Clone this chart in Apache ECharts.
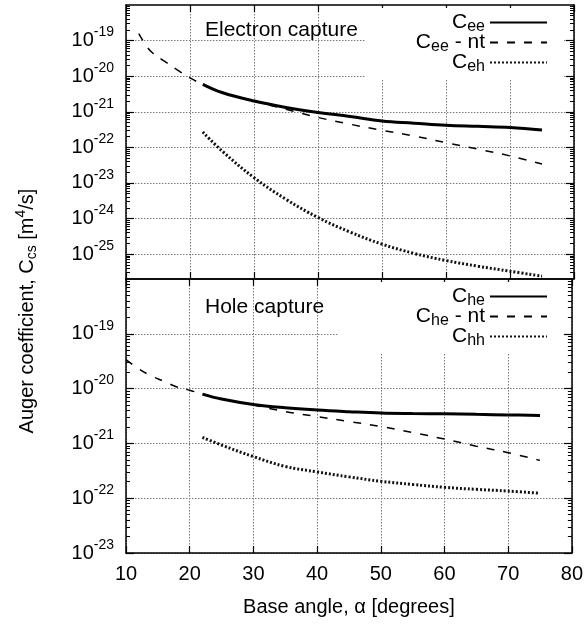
<!DOCTYPE html>
<html><head><meta charset="utf-8">
<script src="https://cdn.jsdelivr.net/npm/echarts@6/dist/echarts.min.js"></script>
<style>html,body{margin:0;padding:0;background:#fff}#c{width:586px;height:624px}</style>
</head><body><div id="c"></div>
<script>
// ---- data ----
const angleEeNt = [12,13,14,16,18,20,22,25,30,35,40,45,50,55,60,65,70,75];
const valEeNt = [1.58e-19,7.94e-20,4.79e-20,2.63e-20,1.51e-20,8.91e-21,5.89e-21,3.47e-21,2.0e-21,1.17e-21,6.92e-22,4.47e-22,3.02e-22,2.09e-22,1.35e-22,8.91e-23,5.75e-23,3.39e-23];
const angleMain = [22,25,30,35,40,45,50,55,60,65,70,75];
const valEe = [5.89e-21,3.47e-21,2.0e-21,1.32e-21,9.55e-22,7.41e-22,5.5e-22,4.79e-22,4.17e-22,3.89e-22,3.63e-22,3.09e-22];
const valEh = [2.69e-22,7.94e-23,1.41e-23,3.47e-24,1.07e-24,4.17e-25,1.91e-25,1.05e-25,6.61e-26,4.57e-26,3.31e-26,2.40e-26];
const angleHeNt = [10,12,14,16,18,20,22,25,30,35,40,45,50,55,60,65,70,75];
const valHeNt = [3.39e-20,2.29e-20,1.70e-20,1.35e-20,1.07e-20,9.33e-21,7.94e-21,6.46e-21,5.01e-21,3.80e-21,3.09e-21,2.51e-21,2.04e-21,1.58e-21,1.20e-21,8.91e-22,6.76e-22,4.90e-22];
const valHe = [7.94e-21,6.46e-21,5.13e-21,4.47e-21,4.07e-21,3.80e-21,3.59e-21,3.51e-21,3.47e-21,3.39e-21,3.31e-21,3.24e-21];
const valHh = [1.29e-21,9.33e-22,5.75e-22,3.80e-22,3.02e-22,2.45e-22,2.04e-22,1.78e-22,1.58e-22,1.45e-22,1.35e-22,1.23e-22];
const xTicks = [10,20,30,40,50,60,70,80];
const topDecades = [1e-25,1e-24,1e-23,1e-22,1e-21,1e-20,1e-19];
const bottomDecades = [1e-23,1e-22,1e-21,1e-20,1e-19];
const topRange = [2e-26, 1e-18];
const bottomRange = [1e-23, 1e-18];

const FONT = '"Liberation Sans", Arial, sans-serif';
function minorsOf(range){
  const out=[];
  for(let e=-27;e<=-18;e++){
    for(let k=2;k<=9;k++){
      const v = k*Math.pow(10,e);
      if(v>range[0]*1.0001 && v<range[1]*0.9999) out.push(v);
    }
  }
  return out;
}
const pair = (xs, ys) => xs.map((x,i)=>[x, ys[i]]);

const frameLine = {show:true, onZero:false, lineStyle:{color:'#000', width:1.5}};
const gridSplit = {show:true, lineStyle:{color:'#7a7a7a', width:1, type:[1.5,1.5]}};

function xAx(grid, pos, withLabels, withSplit){
  const a = {
    type:'value', gridIndex:grid, position:pos, min:10, max:80, interval:10,
    axisLine: frameLine,
    axisTick:{show:true, inside:true, length:7, customValues:xTicks, lineStyle:{color:'#000', width:1.2}},
    axisLabel:{show:withLabels, color:'#000', fontFamily:FONT, fontSize:20, margin:11},
    splitLine: withSplit ? gridSplit : {show:false}
  };
  if (withLabels){
    a.name = 'Base angle, \u03b1 [degrees]';
    a.nameLocation = 'middle';
    a.nameGap = 44;
    a.nameTextStyle = {color:'#000', fontFamily:FONT, fontSize:20};
  }
  return a;
}
function yMajor(grid, pos, range, decades, withLabels){
  return {
    type:'log', gridIndex:grid, position:pos, min:range[0], max:range[1], logBase:10,
    splitNumber:8,
    axisLine: frameLine,
    axisTick:{show:true, inside:true, length:8, customValues:decades, lineStyle:{color:'#000', width:1.2}},
    axisLabel:{show:withLabels, customValues:decades, margin:12, color:'#000',
      formatter:(v)=>'10{s|'+Math.round(Math.log10(v))+'}',
      fontFamily:FONT, fontSize:20,
      rich:{s:{fontFamily:FONT, fontSize:14, color:'#000', padding:[0,0,16,0]}}},
    splitLine: withLabels ? gridSplit : {show:false}
  };
}
function yMinor(grid, pos, range){
  return {
    type:'log', gridIndex:grid, position:pos, min:range[0], max:range[1], logBase:10,
    splitNumber:8,
    axisLine:{show:false},
    axisTick:{show:true, inside:true, length:4, customValues:minorsOf(range), lineStyle:{color:'#000', width:1}},
    axisLabel:{show:false},
    splitLine:{show:false}
  };
}

const legendFmt = (name)=> name.replace(/^C(\w\w)/, 'C{sub|$1}');
function legendDef(names, top, padLeft){
  return {
    data:names, orient:'vertical', align:'right', right:23, top:top,
    itemWidth:57, itemHeight:10, itemGap:-3,
    backgroundColor:'#fff', padding:[4,15,4,padLeft],
    formatter: legendFmt,
    itemStyle:{opacity:0},
    textStyle:{color:'#000', fontFamily:FONT, fontSize:21,
      rich:{sub:{fontFamily:FONT, fontSize:16, color:'#000', padding:[9,0,0,0]}}}
  };
}

const solid = {color:'#000', width:3, type:'solid'};
const dashed = {color:'#000', width:1.5, type:[8,9]};
const dotted = {color:'#111', width:3, type:[2,2]};
function ser(name, xi, yi, data, ls){
  return {name, type:'line', xAxisIndex:xi, yAxisIndex:yi, data, symbol:'none', showSymbol:false,
    smooth:0.4, lineStyle:ls, itemStyle:{color:'#000'}, z:5};
}

const chart = echarts.init(document.getElementById('c'), null, {renderer:'canvas'});
chart.setOption({
  animation:false,
  backgroundColor:'#fff',
  grid:[
    {left:126, top:5, width:448, height:274, show:false},
    {left:126, top:279, width:448, height:274, show:false}
  ],
  xAxis:[
    xAx(0,'bottom',false,true),
    xAx(0,'top',false,false),
    xAx(1,'bottom',true,true),
    xAx(1,'top',false,false)
  ],
  yAxis:[
    yMajor(0,'left',topRange,topDecades,true),
    yMinor(0,'left',topRange),
    yMajor(0,'right',topRange,topDecades,false),
    yMinor(0,'right',topRange),
    yMajor(1,'left',bottomRange,bottomDecades,true),
    yMinor(1,'left',bottomRange),
    yMajor(1,'right',bottomRange,bottomDecades,false),
    yMinor(1,'right',bottomRange)
  ],
  legend:[
    legendDef(['Cee','Cee - nt','Ceh'], 8, 50),
    legendDef(['Che','Che - nt','Chh'], 282, 78)
  ],
  graphic:[
    {type:'text', x:205, y:30, z:10, style:{text:'Electron capture', fill:'#000', fontFamily:FONT, fontSize:21, verticalAlign:'middle'}},
    {type:'text', x:205, y:307, z:10, style:{text:'Hole capture', fill:'#000', fontFamily:FONT, fontSize:21, verticalAlign:'middle'}},
    {type:'text', x:27, y:311, rotation:Math.PI/2, z:10, style:{
      text:'Auger coefficient, C{sub|cs} [m{sup|4}/s]', fill:'#000', fontFamily:FONT, fontSize:20,
      align:'center', verticalAlign:'middle',
      rich:{sub:{fontFamily:FONT, fontSize:14, fill:'#000', padding:[10,0,0,0]},
            sup:{fontFamily:FONT, fontSize:14, fill:'#000', padding:[0,0,12,0]}}}}
  ],
  series:[
    ser('Cee', 0, 0, pair(angleMain, valEe), solid),
    ser('Cee - nt', 0, 0, pair(angleEeNt, valEeNt), dashed),
    ser('Ceh', 0, 0, pair(angleMain, valEh), dotted),
    ser('Che', 2, 4, pair(angleMain, valHe), solid),
    ser('Che - nt', 2, 4, pair(angleHeNt, valHeNt), dashed),
    ser('Chh', 2, 4, pair(angleMain, valHh), dotted)
  ]
});
</script></body></html>
